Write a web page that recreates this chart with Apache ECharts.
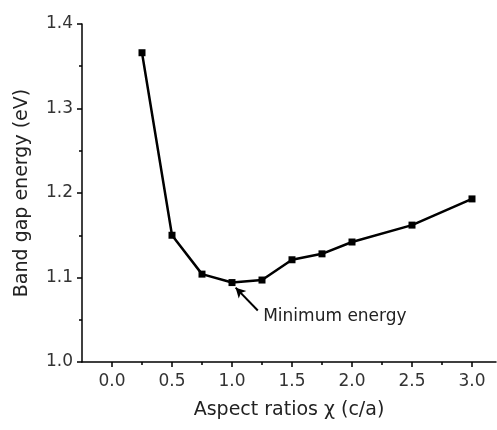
<!DOCTYPE html>
<html>
<head>
<meta charset="utf-8">
<script src="https://cdn.jsdelivr.net/npm/echarts@6/dist/echarts.min.js"></script>
<style>
  html, body { margin: 0; padding: 0; background: #fff; }
  #main { width: 497px; height: 430px; }
</style>
</head>
<body>
<div id="main"></div>
<script>
// 数据
var ratios = [0.25, 0.5, 0.75, 1.0, 1.25, 1.5, 1.75, 2.0, 2.5, 3.0];
var energy = [1.366, 1.150, 1.104, 1.094, 1.097, 1.121, 1.128, 1.142, 1.162, 1.193];
var xMajorTicks = [0, 0.5, 1.0, 1.5, 2.0, 2.5, 3.0];
var xMinorTicks = [0.25, 0.75, 1.25, 1.75, 2.25, 2.75];
var yTicks = [1.0, 1.1, 1.2, 1.3, 1.4];

var font = 'DejaVu Sans';
var myChart = echarts.init(document.getElementById('main'));

var option = {
    animation: false,
    backgroundColor: '#fff',
    grid: { left: 82, right: 1, top: 24, bottom: 68 },
    xAxis: [
        {
            type: 'value',
            min: -0.25,
            max: 3.2,
            name: 'Aspect ratios χ (c/a)',
            nameLocation: 'middle',
            nameGap: 39,
            nameTextStyle: { fontFamily: font, fontSize: 19, color: '#222' },
            axisLine: { show: true, onZero: false, lineStyle: { color: '#000', width: 1.5 } },
            axisTick: { show: true, customValues: xMajorTicks, length: 5, lineStyle: { color: '#000', width: 1.5 } },
            axisLabel: {
                customValues: xMajorTicks,
                margin: 11,
                fontFamily: font, fontSize: 17, color: '#333',
                formatter: function (v) { return v.toFixed(1); }
            },
            splitLine: { show: false }
        },
        {
            // 次刻度
            type: 'value',
            position: 'bottom',
            min: -0.25,
            max: 3.2,
            axisLine: { show: false, onZero: false },
            axisTick: { show: true, customValues: xMinorTicks, length: 3, lineStyle: { color: '#000', width: 1.5 } },
            axisLabel: { show: false },
            splitLine: { show: false }
        }
    ],
    yAxis: {
        type: 'value',
        min: 1.0,
        max: 1.4,
        interval: 0.1,
        name: 'Band gap energy (eV)',
        nameLocation: 'middle',
        nameGap: 50,
        nameTextStyle: { fontFamily: font, fontSize: 19, color: '#222' },
        axisLine: { show: true, onZero: false, lineStyle: { color: '#000', width: 1.5 } },
        axisTick: { show: true, length: 5, lineStyle: { color: '#000', width: 1.5 } },
        minorTick: { show: true, splitNumber: 2, length: 3, lineStyle: { color: '#000', width: 1.5 } },
        axisLabel: {
            margin: 9,
            fontFamily: font, fontSize: 17, color: '#333',
            formatter: function (v) { return v.toFixed(1); }
        },
        splitLine: { show: false }
    },
    series: [
        {
            type: 'line',
            data: ratios.map(function (x, i) { return [x, energy[i]]; }),
            symbol: 'rect',
            symbolSize: 7,
            lineStyle: { color: '#000', width: 2.5 },
            itemStyle: { color: '#000' },
            markLine: {
                silent: true,
                symbol: ['none', 'arrow'],
                symbolSize: [8, 10],
                label: { show: false },
                lineStyle: { color: '#000', width: 2, type: 'solid' },
                data: [[{ coord: [1.215, 1.061] }, { coord: [1.03, 1.088] }]]
            }
        }
    ]
};
myChart.setOption(option);

// 注释文字
var p = myChart.convertToPixel({ gridIndex: 0 }, [1.26, 1.054]);
myChart.setOption({
    graphic: [{
        type: 'text',
        x: p[0], y: p[1],
        style: {
            text: 'Minimum energy',
            fontFamily: font, fontSize: 17, fill: '#222',
            textAlign: 'left', textVerticalAlign: 'middle'
        }
    }]
});
</script>
</body>
</html>
